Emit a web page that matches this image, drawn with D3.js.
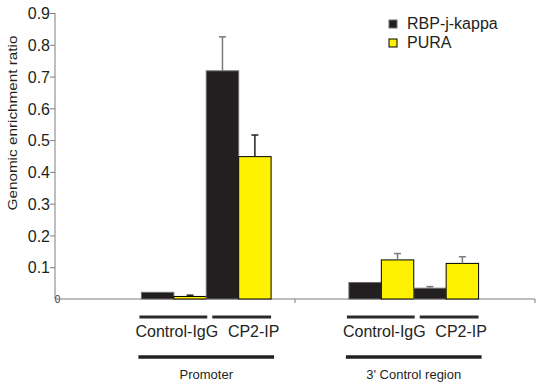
<!DOCTYPE html>
<html>
<head>
<meta charset="utf-8">
<script src="https://cdn.jsdelivr.net/npm/d3@7"></script>
<style>
  body { margin: 0; background: #fff; }
  svg { font-family: "Liberation Sans", Arial, sans-serif; }
</style>
</head>
<body>
<div id="chart"></div>
<script>
// data
const regions = ["Promoter", "3' Control region"];
const conditions = ["Control-IgG", "CP2-IP"];
const seriesNames = ["RBP-j-kappa", "PURA"];
const seriesColors = ["#231f20", "#fff200"];
// values[region][condition]
const rbpValues = [[0.021, 0.718], [0.052, 0.034]];
const puraValues = [[0.008, 0.448], [0.123, 0.112]];
const rbpErrors = [[0, 0.107], [0, 0.005]];
const puraErrors = [[0.004, 0.068], [0.02, 0.021]];
const yTicks = [0.1, 0.2, 0.3, 0.4, 0.5, 0.6, 0.7, 0.8, 0.9];

const width = 539, height = 386;
const axisX = 55, axisRight = 535, y0 = 299, yTop = 13;

const svg = d3.select("#chart").append("svg")
    .attr("width", width)
    .attr("height", height);

const y = d3.scaleLinear().domain([0, 0.9]).range([y0, yTop]);

// region slots on the axis (tick marks) and where the bar groups sit
const xAxisScale = d3.scaleBand().domain(regions).range([axisX, axisRight]);
const xGroup = d3.scaleBand().domain(regions).range([102, 518]).paddingInner(0.375).paddingOuter(0.19);
const xCond = d3.scaleBand().domain(conditions).range([0, xGroup.bandwidth()]);
const xSeries = d3.scaleBand().domain(seriesNames).range([0, xCond.bandwidth()]);

// flatten
const bars = [];
regions.forEach((r, ri) => {
    conditions.forEach((c, ci) => {
        bars.push({region: r, cond: c, series: seriesNames[0], value: rbpValues[ri][ci], err: rbpErrors[ri][ci], color: seriesColors[0]});
        bars.push({region: r, cond: c, series: seriesNames[1], value: puraValues[ri][ci], err: puraErrors[ri][ci], color: seriesColors[1]});
    });
});
const barX = d => xGroup(d.region) + xCond(d.cond) + xSeries(d.series);

// y axis
const yAxis = svg.append("g")
    .attr("transform", `translate(${axisX},0)`)
    .call(d3.axisLeft(y).tickValues(yTicks).tickSize(5).tickSizeOuter(0).tickFormat(d3.format(".1f")));
yAxis.select(".domain").attr("stroke", "#7f7f7f").attr("d", `M0,${yTop}V${y0}`);
yAxis.selectAll(".tick line").attr("stroke", "#7f7f7f");
yAxis.selectAll(".tick text")
    .attr("x", -5)
    .attr("dy", "0.36em")
    .style("font-size", "16px")
    .attr("fill", "#231f20")
    .style("font-family", "'Liberation Sans', Arial, sans-serif");

// small zero label
svg.append("text")
    .attr("x", axisX + 2.5)
    .attr("y", y(0) + 3.5)
    .attr("text-anchor", "middle")
    .style("font-size", "10px")
    .attr("fill", "#3a2a40")
    .text("0");

// x axis baseline
svg.append("line")
    .attr("x1", axisX).attr("x2", axisRight)
    .attr("y1", y(0)).attr("y2", y(0))
    .attr("stroke", "#7f7f7f").attr("stroke-width", 1);
svg.selectAll(".xtick")
    .data(regions)
    .enter().append("line")
    .attr("class", "xtick")
    .attr("x1", d => xAxisScale(d) + xAxisScale.bandwidth())
    .attr("x2", d => xAxisScale(d) + xAxisScale.bandwidth())
    .attr("y1", y(0)).attr("y2", y(0) + 4)
    .attr("stroke", "#7f7f7f");

// bars
svg.selectAll(".bar")
    .data(bars)
    .enter().append("rect")
    .attr("class", "bar")
    .attr("x", d => barX(d))
    .attr("y", d => y(d.value))
    .attr("width", xSeries.bandwidth())
    .attr("height", d => y(0) - y(d.value))
    .attr("fill", d => d.color)
    .attr("stroke", d => d.series === seriesNames[0] ? "#6d6d6d" : "#000")
    .attr("stroke-width", 1);

// error bars (upper only)
const errColor = d => d.region === regions[0] && d.series === seriesNames[1] ? "#231f20" : "#7a7a7a";
const errs = svg.selectAll(".err")
    .data(bars.filter(d => d.err > 0))
    .enter().append("g")
    .attr("class", "err");
errs.append("line")
    .attr("x1", d => barX(d) + xSeries.bandwidth() / 2)
    .attr("x2", d => barX(d) + xSeries.bandwidth() / 2)
    .attr("y1", d => y(d.value))
    .attr("y2", d => y(d.value + d.err))
    .attr("stroke", errColor)
    .attr("stroke-width", 1.5);
errs.append("line")
    .attr("x1", d => barX(d) + xSeries.bandwidth() / 2 - 3.5)
    .attr("x2", d => barX(d) + xSeries.bandwidth() / 2 + 3.5)
    .attr("y1", d => y(d.value + d.err))
    .attr("y2", d => y(d.value + d.err))
    .attr("stroke", errColor)
    .attr("stroke-width", 1.5);

// condition brackets and labels
regions.forEach(r => {
    conditions.forEach((c, ci) => {
        const x1 = xGroup(r) + xCond(c);
        svg.append("line")
            .attr("x1", x1 + (ci === 0 ? -2 : 6)).attr("x2", x1 + xCond.bandwidth() + (ci === 0 ? 1 : 0))
            .attr("y1", 317).attr("y2", 317)
            .attr("stroke", "#2b2b2b").attr("stroke-width", 3);
        svg.append("text")
            .attr("x", x1 + xCond.bandwidth() / 2 + (ci === 0 ? 3 : 15))
            .attr("y", 337)
            .attr("text-anchor", "middle")
            .style("font-size", "16px")
            .attr("fill", "#231f20")
            .text(c);
    });
    svg.append("line")
        .attr("x1", xGroup(r) - 3).attr("x2", xGroup(r) + xGroup.bandwidth() + 3)
        .attr("y1", 357).attr("y2", 357)
        .attr("stroke", "#231f20").attr("stroke-width", 3.5);
    svg.append("text")
        .attr("x", xGroup(r) + xGroup.bandwidth() / 2)
        .attr("y", 379)
        .attr("text-anchor", "middle")
        .style("font-size", "13px")
        .attr("fill", "#231f20")
        .text(r);
});

// y axis title
svg.append("text")
    .attr("transform", `translate(17,123) rotate(-90)`)
    .attr("text-anchor", "middle")
    .attr("textLength", 175)
    .attr("lengthAdjust", "spacingAndGlyphs")
    .style("font-size", "13px")
    .attr("fill", "#231f20")
    .text("Genomic enrichment ratio");

// legend
const legend = svg.selectAll(".legend")
    .data(seriesNames)
    .enter().append("g")
    .attr("class", "legend")
    .attr("transform", (d, i) => `translate(389,${20 + i * 19})`);
legend.append("rect")
    .attr("width", 8).attr("height", 8)
    .attr("fill", (d, i) => seriesColors[i])
    .attr("stroke", (d, i) => i === 0 ? "#6d6d6d" : "#000");
legend.append("text")
    .attr("x", 18).attr("y", 8.5)
    .style("font-size", "16px")
    .attr("fill", "#231f20")
    .text(d => d);
</script>
</body>
</html>
